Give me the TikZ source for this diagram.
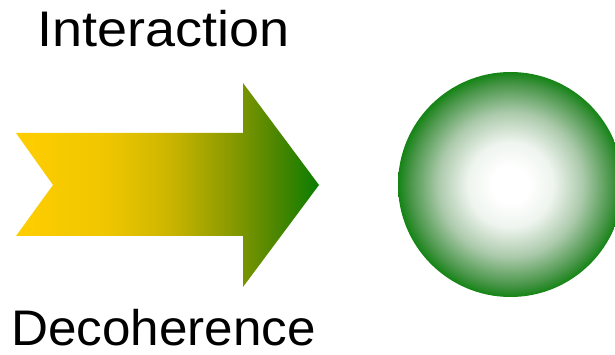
\documentclass[tikz,border=0pt]{standalone}
\usepackage{fontspec}
\setmainfont{Liberation Sans}
\definecolor{ay0}{RGB}{255,206,0}
\definecolor{ay1}{RGB}{238,198,0}
\definecolor{ay2}{RGB}{205,182,0}
\definecolor{ay3}{RGB}{140,155,0}
\definecolor{ay4}{RGB}{80,135,0}
\definecolor{ay5}{RGB}{10,125,0}
\definecolor{bg0}{RGB}{255,255,255}
\definecolor{bg1}{RGB}{238,244,238}
\definecolor{bg2}{RGB}{172,202,172}
\definecolor{bg3}{RGB}{70,148,70}
\definecolor{bg4}{RGB}{20,132,20}
\pgfdeclarehorizontalshading{arrowshade}{100bp}{color(0bp)=(ay0); color(25bp)=(ay0); color(40bp)=(ay1); color(50bp)=(ay2); color(60bp)=(ay3); color(67.5bp)=(ay4); color(75bp)=(ay5); color(100bp)=(ay5)}
\pgfdeclareradialshading{sphereshade}{\pgfpoint{0bp}{0bp}}{color(0bp)=(bg0); color(4bp)=(bg0); color(9.5bp)=(bg1); color(16bp)=(bg2); color(22.5bp)=(bg3); color(25bp)=(bg4); color(50bp)=(bg4)}
\tikzset{
  label text/.style={font=\fontsize{50}{60}\selectfont, inner sep=0pt, anchor=base west, text=black},
}
\begin{document}
\begin{tikzpicture}[x=1pt,y=-1pt]
\useasboundingbox (0,0) rectangle (615,355);
\clip (0,0) rectangle (615,355);
\shade[shading=arrowshade]
  (16,133) -- (243,133) -- (243,83) -- (319,185) -- (243,287) -- (243,236) -- (16,236) -- (53,185) -- cycle;
\shade[shading=sphereshade] (510.5,184.5) circle[radius=112.5];
\node[label text] (inter) at (37,47) {\scalebox{1.08}[1]{Interaction}};
\node[label text] (deco) at (11,345) {\scalebox{1.024}[1]{Decoherence}};
\end{tikzpicture}
\end{document}
